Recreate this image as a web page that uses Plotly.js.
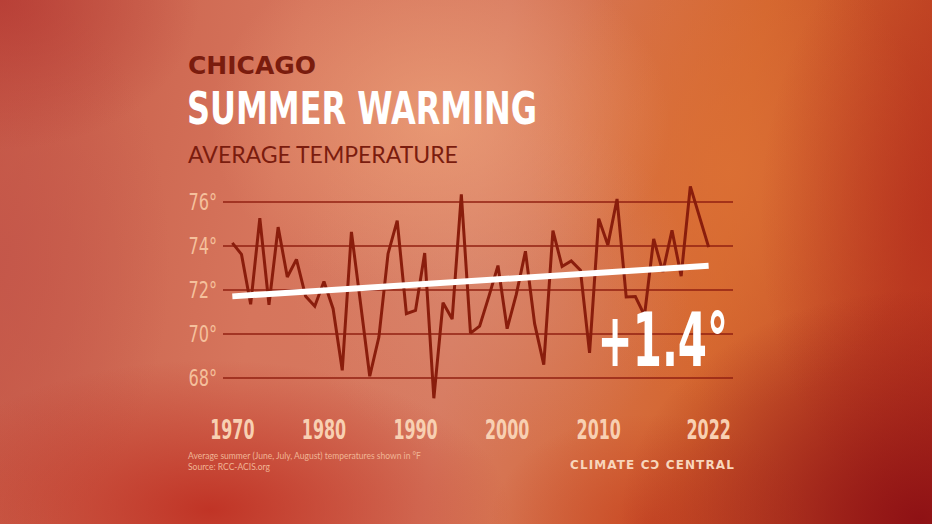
<!DOCTYPE html>
<html>
<head>
<meta charset="utf-8">
<script src="https://cdn.plot.ly/plotly-3.0.1.min.js"></script>
<style>
html, body { margin:0; padding:0; width:932px; height:524px; overflow:hidden; }
body {
  background:
    radial-gradient(ellipse 200px 150px at 0px 0px, rgba(180,55,50,0.75), rgba(180,55,50,0) 100%),
    radial-gradient(ellipse 230px 180px at 440px 120px, rgba(238,162,122,0.75), rgba(238,162,122,0) 100%),
    radial-gradient(ellipse 200px 180px at 490px 280px, rgba(218,140,115,0.55), rgba(218,140,115,0) 100%),
    radial-gradient(ellipse 300px 150px at 210px 510px, rgba(190,45,32,0.9), rgba(190,45,32,0) 100%),
    radial-gradient(ellipse 300px 230px at 920px 520px, rgba(140,15,20,0.95), rgba(140,15,20,0) 100%),
    radial-gradient(ellipse 160px 110px at 650px 524px, rgba(196,62,32,0.7), rgba(196,62,32,0) 100%),
    radial-gradient(ellipse 180px 300px at 940px 220px, rgba(182,48,30,0.8), rgba(182,48,30,0) 100%),
    radial-gradient(ellipse 200px 240px at 730px 170px, rgba(220,112,52,0.85), rgba(220,112,52,0) 100%),
    radial-gradient(ellipse 170px 280px at 0px 260px, rgba(196,86,74,0.85), rgba(196,86,74,0) 100%),
    linear-gradient(100deg, #c65a46 0%, #d6755c 30%, #d77a60 50%, #d4662f 75%, #b9391f 100%);
}
#chart { width:932px; height:524px; }
</style>
</head>
<body>
<div id="chart"></div>
<script>
// ---- data ----
const years = [1970,1971,1972,1973,1974,1975,1976,1977,1978,1979,
               1980,1981,1982,1983,1984,1985,1986,1987,1988,1989,
               1990,1991,1992,1993,1994,1995,1996,1997,1998,1999,
               2000,2001,2002,2003,2004,2005,2006,2007,2008,2009,
               2010,2011,2012,2013,2014,2015,2016,2017,2018,2019,
               2020,2021,2022];
const temps = [74.14,73.62,71.35,75.27,71.33,74.86,72.59,73.39,71.71,71.26,
               72.39,71.15,68.35,74.64,71.38,68.08,69.86,73.65,75.15,70.92,
               71.07,73.68,67.08,71.42,70.68,76.35,70.04,70.36,71.70,73.11,
               70.24,71.80,73.76,70.47,68.61,74.70,73.07,73.32,72.90,69.14,
               75.24,74.05,76.14,71.68,71.70,70.85,74.32,72.82,74.71,72.63,
               76.71,75.32,73.95];
const trendYears = [1970, 2022];
const trendTemps = [71.71, 73.10];
const yTickVals = [68, 70, 72, 74, 76];
const yTickText = ["68°", "70°", "72°", "74°", "76°"];
const xTickVals = [1970, 1980, 1990, 2000, 2010, 2022];
const xTickText = ["1970", "1980", "1990", "2000", "2010", "2022"];
const changeLabel = "+1.4°";

// ---- layout helpers (pixel -> paper) ----
const W = 932, H = 524;
const M = {l:223, r:199, t:169, b:113};
const pw = W - M.l - M.r, ph = H - M.t - M.b;
const px = x => (x - M.l) / pw;
const py = y => (H - M.b - y) / ph;

const cond = "'DejaVu Sans Condensed', 'DejaVu Sans', sans-serif";
const peach = "#f8d0b2";
const darkRed = "#7a1c0e";

const traces = [
  {x: years, y: temps, type: 'scatter', mode: 'lines',
   line: {color: '#8a1d0c', width: 3}, hoverinfo: 'skip'},
  {x: trendYears, y: trendTemps, type: 'scatter', mode: 'lines',
   line: {color: '#ffffff', width: 6}, hoverinfo: 'skip'}
];

const layout = {
  width: W, height: H,
  margin: M,
  paper_bgcolor: 'rgba(0,0,0,0)',
  plot_bgcolor: 'rgba(0,0,0,0)',
  showlegend: false,
  xaxis: {
    range: [1968.98, 2024.66],
    tickvals: xTickVals, ticktext: xTickText,
    showgrid: false, zeroline: false, showline: false,
    ticks: '', ticklabelstandoff: 1,
    tickfont: {family: cond, size: 26, color: peach, weight: 700},
    fixedrange: true
  },
  yaxis: {
    range: [66.5, 77.5],
    tickvals: yTickVals, ticktext: yTickText,
    showgrid: true, gridcolor: 'rgba(145,32,18,0.75)', gridwidth: 1.5,
    zeroline: false, showline: false, ticks: '', ticklabelstandoff: 5,
    tickfont: {family: cond, size: 23, color: '#f5c09c'},
    fixedrange: true
  },
  annotations: [
    {text: 'CHICAGO', xref: 'paper', yref: 'paper', x: px(186), y: py(65),
     xanchor: 'left', yanchor: 'middle', showarrow: false,
     font: {family: "'DejaVu Sans', sans-serif", size: 25, color: darkRed, weight: 700}},
    {text: 'SUMMER WARMING', xref: 'paper', yref: 'paper', x: px(185), y: py(109),
     xanchor: 'left', yanchor: 'middle', showarrow: false,
     font: {family: cond, size: 45, color: '#ffffff', weight: 700}},
    {text: 'AVERAGE TEMPERATURE', xref: 'paper', yref: 'paper', x: px(186), y: py(154),
     xanchor: 'left', yanchor: 'middle', showarrow: false,
     font: {family: "'Lato', sans-serif", size: 23, color: darkRed}},
    {text: changeLabel, xref: 'paper', yref: 'paper', x: px(730), y: py(340),
     xanchor: 'right', yanchor: 'middle', showarrow: false,
     font: {family: cond, size: 74, color: '#ffffff', weight: 700}},
    {text: 'Average summer (June, July, August) temperatures shown in °F<br>Source: RCC-ACIS.org',
     xref: 'paper', yref: 'paper', x: px(186), y: py(461),
     xanchor: 'left', yanchor: 'middle', align: 'left', showarrow: false,
     font: {family: "'Lato', sans-serif", size: 8.5, color: '#f0b595'}},
    {text: 'CLIMATE CↃ CENTRAL', xref: 'paper', yref: 'paper', x: px(578), y: py(465),
     xanchor: 'left', yanchor: 'middle', showarrow: false,
     font: {family: "'DejaVu Sans', sans-serif", size: 12, color: '#f8d6bc', weight: 700}}
  ]
};

// horizontal condensing of condensed-display text (keeps real SVG text)
function squeeze(el, sx, anchor) {
  const bb = el.getBBox();
  const ax = anchor === 'left' ? bb.x : anchor === 'right' ? bb.x + bb.width : bb.x + bb.width / 2;
  const prev = el.getAttribute('transform') || '';
  el.setAttribute('transform', prev + ` translate(${ax},0) scale(${sx},1) translate(${-ax},0)`);
}

Plotly.newPlot('chart', traces, layout, {displayModeBar: false, staticPlot: true}).then(gd => {
  const ann = gd.querySelectorAll('.annotation-text');
  squeeze(ann[1], 0.79, 'left');
  squeeze(ann[3], 0.63, 'right');
  ann[5].style.letterSpacing = '1.1px';
  gd.querySelectorAll('.xtick text').forEach(t => squeeze(t, 0.68, 'center'));
  gd.querySelectorAll('.ytick text').forEach(t => squeeze(t, 0.78, 'right'));
});
</script>
</body>
</html>
